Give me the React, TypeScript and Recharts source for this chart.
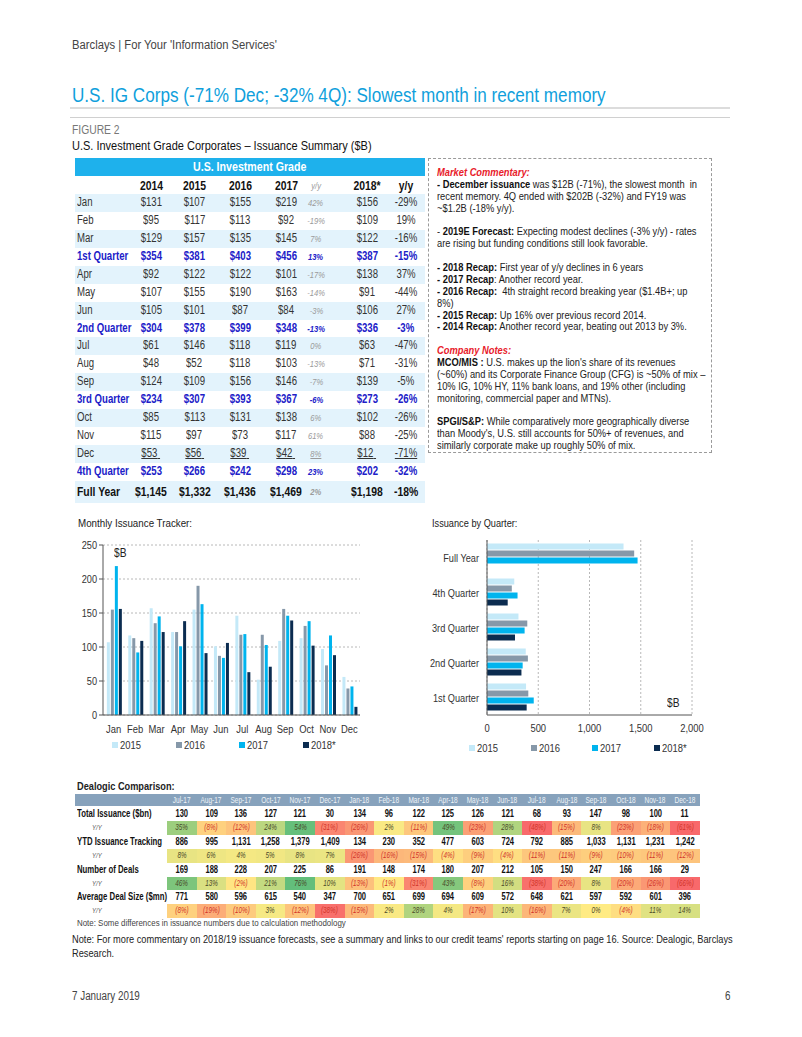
import React from 'react';
import { BarChart, Bar, XAxis, YAxis, CartesianGrid, Legend } from 'recharts';

const FONT = "'Liberation Sans', Arial, sans-serif";

// ---------- Issuance summary data ----------
const MONTHS = ['Jan', 'Feb', 'Mar', 'Apr', 'May', 'Jun', 'Jul', 'Aug', 'Sep', 'Oct', 'Nov', 'Dec'];
const S2014 = [131, 95, 129, 92, 107, 105, 61, 48, 124, 85, 115, 53];
const S2015 = [107, 117, 157, 122, 155, 101, 146, 52, 109, 113, 97, 56];
const S2016 = [155, 113, 135, 122, 190, 87, 118, 118, 156, 131, 73, 39];
const S2017 = [219, 92, 145, 101, 163, 84, 119, 103, 146, 138, 117, 42];
const S2018 = [156, 109, 122, 138, 91, 106, 63, 71, 139, 102, 88, 12];
const YY17 = ['42%', '-19%', '7%', '-17%', '-14%', '-3%', '0%', '-13%', '-7%', '6%', '61%', '8%'];
const YY18 = ['-29%', '19%', '-16%', '37%', '-44%', '27%', '-47%', '-31%', '-5%', '-26%', '-25%', '-71%'];

const QUARTERS = ['1st Quarter', '2nd Quarter', '3rd Quarter', '4th Quarter'];
const Q2014 = [354, 304, 234, 253];
const Q2015 = [381, 378, 307, 266];
const Q2016 = [403, 399, 393, 242];
const Q2017 = [456, 348, 367, 298];
const Q2018 = [387, 336, 273, 202];
const QYY17 = ['13%', '-13%', '-6%', '23%'];
const QYY18 = ['-15%', '-3%', '-26%', '-32%'];

const FY_LABEL = 'Full Year';
const FY = [1145, 1332, 1436, 1469, 1198];
const FYYY17 = '2%';
const FYYY18 = '-18%';

const YEARS_HEAD = ['2014', '2015', '2016', '2017', '2018*'];
const SERIES = ['2015', '2016', '2017', '2018*'];
const COLORS = ['#c4e9f8', '#8698a9', '#00b4ee', '#0b2c50'];
const MONTH_TICKS = [0, 50, 100, 150, 200, 250];
const QUARTER_TICKS = [0, 500, 1000, 1500, 2000];

// ---------- Dealogic data ----------
const DL_MONTHS = ['Jul-17', 'Aug-17', 'Sep-17', 'Oct-17', 'Nov-17', 'Dec-17', 'Jan-18', 'Feb-18', 'Mar-18', 'Apr-18', 'May-18', 'Jun-18', 'Jul-18', 'Aug-18', 'Sep-18', 'Oct-18', 'Nov-18', 'Dec-18'];
const DL_TOTAL = [130, 109, 136, 127, 121, 30, 134, 96, 122, 125, 126, 121, 68, 93, 147, 98, 100, 11];
const DL_TOTAL_YY = [35, -8, -12, 24, 54, -31, -26, 2, -11, 49, -23, 28, -48, -15, 8, -23, -18, -61];
const DL_YTD = [886, 995, 1131, 1258, 1379, 1409, 134, 230, 352, 477, 603, 724, 792, 885, 1033, 1131, 1231, 1242];
const DL_YTD_YY = [8, 6, 4, 5, 8, 7, -26, -16, -15, -4, -9, -4, -11, -11, -9, -10, -11, -12];
const DL_DEALS = [169, 188, 228, 207, 225, 86, 191, 148, 174, 180, 207, 212, 105, 150, 247, 166, 166, 29];
const DL_DEALS_YY = [46, 13, -2, 21, 76, 10, -13, -1, -31, 43, -8, 16, -38, -20, 8, -20, -26, -66];
const DL_AVG = [771, 580, 596, 615, 540, 347, 700, 651, 699, 694, 609, 572, 648, 621, 597, 592, 601, 396];
const DL_AVG_YY = [-8, -19, -10, 3, -12, -38, -15, 2, 28, 4, -17, 10, -16, 7, 0, -4, 11, 14];

const monthlyData = MONTHS.map((m, i) => ({ m, y2015: S2015[i], y2016: S2016[i], y2017: S2017[i], y2018: S2018[i] }));
const quarterData = [
  ...QUARTERS.map((q, i) => ({ q, y2015: Q2015[i], y2016: Q2016[i], y2017: Q2017[i], y2018: Q2018[i] })),
  { q: FY_LABEL, y2015: FY[1], y2016: FY[2], y2017: FY[3], y2018: null },
].reverse();

const money = (v: number) => '$' + v.toLocaleString('en-US');
const comma = (v: number) => v.toLocaleString('en-US');

function heat(v: number) {
  const Y = [255, 235, 132];
  const R = [248, 105, 107];
  const G = [99, 190, 123];
  let t: number, c: number[];
  if (v < 0) { t = Math.min(1, -v / 40); c = R; } else { t = Math.min(1, v / 55); c = G; }
  const r = Y.map((y, k) => Math.round(y + (c[k] - y) * t));
  return `rgb(${r[0]},${r[1]},${r[2]})`;
}

// Text helper: horizontally condensed HTML text
function Txt({ x, y, s = 0.82, align = 'left', style = {}, children }: any) {
  const w = 500;
  const left = align === 'left' ? x : align === 'center' ? x - w / 2 : x - w;
  const origin = align === 'left' ? 'left center' : align === 'right' ? 'right center' : 'center center';
  const { textDecoration, ...rest } = style;
  return (
    <div style={{ position: 'absolute', left, top: y, width: w, textAlign: align, whiteSpace: 'nowrap', ...rest }}>
      <span style={{ display: 'inline-block', transform: `scaleX(${s})`, transformOrigin: origin, textDecoration: textDecoration || 'none' }}>{children}</span>
    </div>
  );
}

const Box = (l: number, t: number, w: number, h: number, bg: string) => (
  <div style={{ position: 'absolute', left: l, top: t, width: w, height: h, background: bg }} />
);

// SVG ticks
const XTick = ({ x, y, payload, dy = 10, fmt }: any) => (
  <g transform={`translate(${x},${y})`}>
    <text x={0} y={0} dy={dy} textAnchor="middle" fontSize={11.5} fill="#333" fontFamily={FONT} transform="scale(0.82,1)">
      {fmt ? fmt(payload.value) : payload.value}
    </text>
  </g>
);
const YTick = ({ x, y, payload }: any) => (
  <g transform={`translate(${x},${y})`}>
    <text x={0} y={0} dy={4} textAnchor="end" fontSize={11.5} fill="#333" fontFamily={FONT} transform="scale(0.8,1)">
      {payload.value}
    </text>
  </g>
);

const LegendContent = ({ left, step }: { left: number; step: number }) => (
  <div style={{ position: 'relative', height: 14, fontFamily: FONT, fontSize: 11.5, color: '#333' }}>
    {SERIES.map((s, i) => (
      <div key={s} style={{ position: 'absolute', left: left + i * step, top: 0, height: 14, display: 'flex', alignItems: 'center', whiteSpace: 'nowrap' }}>
        <span style={{ display: 'inline-block', width: 6, height: 6, background: COLORS[i], marginRight: 2 }} />
        <span style={{ display: 'inline-block', transform: 'scaleX(0.82)', transformOrigin: 'left center' }}>{s}</span>
      </div>
    ))}
  </div>
);

function SummaryTable() {
  const top0 = 194;
  const rh = 17.93;
  type Row = { label: string; vals: number[]; yy17: string; yy18: string; kind: 'm' | 'q' | 'fy' | 'dec' };
  const rows: Row[] = [];
  for (let q = 0; q < 4; q++) {
    for (let k = 0; k < 3; k++) {
      const i = q * 3 + k;
      rows.push({ label: MONTHS[i], vals: [S2014[i], S2015[i], S2016[i], S2017[i], S2018[i]], yy17: YY17[i], yy18: YY18[i], kind: i === 11 ? 'dec' : 'm' });
    }
    rows.push({ label: QUARTERS[q], vals: [Q2014[q], Q2015[q], Q2016[q], Q2017[q], Q2018[q]], yy17: QYY17[q], yy18: QYY18[q], kind: 'q' });
  }
  rows.push({ label: FY_LABEL, vals: FY, yy17: FYYY17, yy18: FYYY18, kind: 'fy' });
  const centers = [151, 194.5, 240, 286, 367];
  const cYY17 = 316;
  const cYY18 = 406;
  const S = 0.8;
  return (
    <>
      {Box(75, 158, 350, 18, '#1eb1ec')}
      <Txt x={250} y={158} align="center" s={0.85} style={{ color: '#fff', fontWeight: 700, fontSize: 12.5, lineHeight: '18px' }}>U.S. Investment Grade</Txt>
      {YEARS_HEAD.map((y, i) => (
        <Txt key={y} x={centers[i]} y={177} align="center" s={S} style={{ fontWeight: 700, fontSize: 13, color: '#111', lineHeight: '17px' }}>{y}</Txt>
      ))}
      <Txt x={cYY17} y={177} align="center" s={S} style={{ fontSize: 9.5, fontStyle: 'italic', color: '#999', lineHeight: '17px' }}>y/y</Txt>
      <Txt x={cYY18} y={177} align="center" s={S} style={{ fontWeight: 700, fontSize: 13, color: '#111', lineHeight: '17px' }}>y/y</Txt>
      {rows.map((r, idx) => {
        const top = top0 + idx * rh;
        const h = r.kind === 'fy' ? 22 : rh;
        const bg = idx % 2 === 0 ? '#e3f3fc' : '#fff';
        const isQ = r.kind === 'q';
        const isFY = r.kind === 'fy';
        const color = isQ ? '#2020c8' : isFY ? '#111' : '#333';
        const fs = isFY ? 13 : 12;
        const base = { fontSize: fs, color, fontWeight: isQ || isFY ? 700 : 400, lineHeight: h + 'px', textDecoration: r.kind === 'dec' ? 'underline' : 'none' };
        return (
          <React.Fragment key={idx}>
            {Box(75, top, 350, h, bg)}
            <Txt x={77} y={top} s={S} style={{ ...base, textDecoration: 'none' }}>{r.label}</Txt>
            {r.vals.map((v, k) => (
              <Txt key={k} x={centers[k]} y={top} align="center" s={S} style={base}>{money(v)}{r.kind === 'dec' ? '\u00a0' : ''}</Txt>
            ))}
            <Txt x={cYY17} y={top} align="center" s={S} style={{ ...base, fontSize: 9.5, fontStyle: 'italic', color: isQ ? '#2020c8' : '#9a9a9a' }}>{r.yy17}</Txt>
            <Txt x={cYY18} y={top} align="center" s={S} style={base}>{r.yy18}</Txt>
          </React.Fragment>
        );
      })}
    </>
  );
}

function Commentary() {
  const B = ({ children }: any) => <b style={{ color: '#111' }}>{children}</b>;
  const R = ({ children }: any) => <b style={{ color: '#e8202a', fontStyle: 'italic' }}>{children}</b>;
  return (
    <div style={{ position: 'absolute', left: 428, top: 158, width: 282, height: 293, border: '1px dashed #9a9a9a' }}>
      <div style={{ position: 'absolute', left: 8, top: 8, fontSize: 11.3, lineHeight: '11.87px', color: '#222', whiteSpace: 'nowrap', transform: 'scaleX(0.825)', transformOrigin: 'left top' }}>
        <R>Market Commentary:</R><br />
        <B>- December issuance</B> was $12B (-71%), the slowest month&nbsp; in<br />
        recent memory. 4Q ended with $202B (-32%) and FY19 was<br />
        ~$1.2B (-18% y/y).<br />
        <br />
        - <B>2019E Forecast:</B> Expecting modest declines (-3% y/y) - rates<br />
        are rising but funding conditions still look favorable.<br />
        <br />
        <B>- 2018 Recap:</B> First year of y/y declines in 6 years<br />
        <B>- 2017 Recap</B>: Another record year.<br />
        <B>- 2016 Recap:</B>&nbsp; 4th straight record breaking year ($1.4B+; up<br />
        8%)<br />
        <B>- 2015 Recap:</B> Up 16% over previous record 2014.<br />
        <B>- 2014 Recap:</B> Another record year, beating out 2013 by 3%.<br />
        <br />
        <R>Company Notes:</R><br />
        <B>MCO/MIS :</B> U.S. makes up the lion's share of its revenues<br />
        (~60%) and its Corporate Finance Group (CFG) is ~50% of mix –<br />
        10% IG, 10% HY, 11% bank loans, and 19% other (including<br />
        monitoring, commercial paper and MTNs).<br />
        <br />
        <B>SPGI/S&amp;P:</B> While comparatively more geographically diverse<br />
        than Moody's, U.S. still accounts for 50%+ of revenues, and<br />
        similarly corporate make up roughly 50% of mix.
      </div>
    </div>
  );
}

function DealogicTable() {
  const colW = 29.6;
  const x0 = 167;
  const rowsDef: { label: string; vals: number[]; yy: boolean }[] = [
    { label: 'Total Issuance ($bn)', vals: DL_TOTAL, yy: false },
    { label: 'Y/Y', vals: DL_TOTAL_YY, yy: true },
    { label: 'YTD Issuance Tracking', vals: DL_YTD, yy: false },
    { label: 'Y/Y', vals: DL_YTD_YY, yy: true },
    { label: 'Number of Deals', vals: DL_DEALS, yy: false },
    { label: 'Y/Y', vals: DL_DEALS_YY, yy: true },
    { label: 'Average Deal Size ($mn)', vals: DL_AVG, yy: false },
    { label: 'Y/Y', vals: DL_AVG_YY, yy: true },
  ];
  const rh = 13.9;
  return (
    <>
      <Txt x={77} y={780} s={0.8} style={{ fontSize: 11.5, fontWeight: 700, color: '#222' }}>Dealogic Comparison:</Txt>
      {Box(75, 794, 625, 12, '#87a2bc')}
      {DL_MONTHS.map((m, i) => (
        <Txt key={m} x={x0 + (i + 0.5) * colW} y={794} align="center" s={0.7} style={{ fontSize: 9.3, lineHeight: '12px', color: '#eef3f8' }}>{m}</Txt>
      ))}
      {rowsDef.map((r, ri) => {
        const top = 807 + ri * rh;
        return (
          <React.Fragment key={ri}>
            {r.yy && r.vals.map((v, i) => <React.Fragment key={'b' + i}>{Box(x0 + i * colW, top, colW + 0.4, rh, heat(v))}</React.Fragment>)}
            <Txt x={r.yy ? 92 : 77} y={top} s={r.yy ? 0.8 : 0.74} style={{ lineHeight: rh + 'px', fontSize: r.yy ? 7.5 : 10.5, fontWeight: r.yy ? 400 : 700, fontStyle: r.yy ? 'italic' : 'normal', color: r.yy ? '#555' : '#111' }}>{r.label}</Txt>
            {r.vals.map((v, i) => (
              <Txt key={i} x={x0 + (i + 0.5) * colW} y={top} align="center" s={r.yy ? 0.74 : 0.72}
                style={{ lineHeight: rh + 'px', fontSize: r.yy ? 8.5 : 10.5, fontWeight: r.yy ? 400 : 700, fontStyle: r.yy ? 'italic' : 'normal', color: r.yy ? (v < 0 ? '#d2342a' : '#4a4a2a') : '#111' }}>
                {r.yy ? (v < 0 ? `(${-v}%)` : `${v}%`) : comma(v)}
              </Txt>
            ))}
          </React.Fragment>
        );
      })}
      <Txt x={77} y={918} s={0.9} style={{ fontSize: 8.8, color: '#444' }}>Note: Some differences in issuance numbers due to calculation methodology</Txt>
    </>
  );
}

export default function App() {
  return (
    <div style={{ position: 'relative', width: 802, height: 1037, background: '#fff', fontFamily: FONT, color: '#222', overflow: 'hidden' }}>
      <style>{'body{margin:0}'}</style>
      <Txt x={72} y={38} s={0.9} style={{ fontSize: 12.5, color: '#444' }}>Barclays | For Your 'Information Services'</Txt>
      <Txt x={72} y={83} s={0.835} style={{ fontSize: 20.5, color: '#109fdc' }}>U.S. IG Corps (-71% Dec; -32% 4Q): Slowest month in recent memory</Txt>
      {Box(70, 107, 660, 2, '#dcdcdc')}
      {Box(70, 117, 660, 1, '#d0d0d0')}
      <Txt x={72} y={123} s={0.86} style={{ fontSize: 12, color: '#777' }}>FIGURE 2</Txt>
      <Txt x={72} y={139} s={0.88} style={{ fontSize: 12.5, color: '#111' }}>U.S. Investment Grade Corporates – Issuance Summary ($B)</Txt>

      <SummaryTable />
      <Commentary />

      <Txt x={78} y={517} s={0.85} style={{ fontSize: 11.5, color: '#222' }}>Monthly Issuance Tracker:</Txt>
      <div style={{ position: 'absolute', left: 68, top: 535 }}>
        <BarChart width={300} height={228} data={monthlyData} margin={{ top: 10, right: 8, left: 0, bottom: 0 }} barCategoryGap="18%" barGap={1}>
          <CartesianGrid vertical={false} stroke="#b8b8b8" strokeDasharray="2 2" />
          <XAxis dataKey="m" interval={0} height={22} tick={<XTick dy={10} />} axisLine={{ stroke: '#555' }} tickLine={false} />
          <YAxis type="number" domain={[0, 250]} ticks={MONTH_TICKS} width={35} tick={<YTick />} axisLine={{ stroke: '#555' }} tickLine={{ stroke: '#555' }} tickSize={4} />
          <Bar dataKey="y2015" name={SERIES[0]} fill={COLORS[0]} isAnimationActive={false} />
          <Bar dataKey="y2016" name={SERIES[1]} fill={COLORS[1]} isAnimationActive={false} />
          <Bar dataKey="y2017" name={SERIES[2]} fill={COLORS[2]} isAnimationActive={false} />
          <Bar dataKey="y2018" name={SERIES[3]} fill={COLORS[3]} isAnimationActive={false} />
          <Legend verticalAlign="bottom" height={26} wrapperStyle={{ left: 0, width: 300 }} content={() => <div style={{ paddingTop: 1 }}><LegendContent left={44} step={63.5} /></div>} />
        </BarChart>
      </div>
      <Txt x={114} y={546} s={0.85} style={{ fontSize: 12, color: '#222' }}>$B</Txt>

      <Txt x={432} y={517} s={0.8} style={{ fontSize: 11.5, color: '#222' }}>Issuance by Quarter:</Txt>
      <div style={{ position: 'absolute', left: 420, top: 530 }}>
        <BarChart width={300} height={232} data={quarterData} layout="vertical" margin={{ top: 10, right: 28, left: 0, bottom: 0 }} barCategoryGap="10%" barGap={1}>
          <CartesianGrid horizontal={false} stroke="#b8b8b8" strokeDasharray="2 2" />
          <XAxis type="number" domain={[0, 2000]} ticks={QUARTER_TICKS} height={22} tick={<XTick dy={9} fmt={comma} />} axisLine={{ stroke: '#555' }} tickLine={false} />
          <YAxis type="category" dataKey="q" width={67} tick={<YTick />} axisLine={{ stroke: '#555' }} tickLine={false} />
          <Bar dataKey="y2015" name={SERIES[0]} fill={COLORS[0]} isAnimationActive={false} />
          <Bar dataKey="y2016" name={SERIES[1]} fill={COLORS[1]} isAnimationActive={false} />
          <Bar dataKey="y2017" name={SERIES[2]} fill={COLORS[2]} isAnimationActive={false} />
          <Bar dataKey="y2018" name={SERIES[3]} fill={COLORS[3]} isAnimationActive={false} />
          <Legend verticalAlign="bottom" height={25} wrapperStyle={{ left: 0, width: 300 }} content={() => <div style={{ paddingTop: 4 }}><LegendContent left={49} step={61.5} /></div>} />
        </BarChart>
      </div>
      <Txt x={667} y={696} s={0.85} style={{ fontSize: 12, color: '#222' }}>$B</Txt>

      <DealogicTable />

      <div style={{ position: 'absolute', left: 72, top: 933, fontSize: 11, lineHeight: '13.5px', color: '#222', whiteSpace: 'nowrap', transform: 'scaleX(0.84)', transformOrigin: 'left top' }}>
        Note: For more commentary on 2018/19 issuance forecasts, see a summary and links to our credit teams' reports starting on page 16. Source: Dealogic, Barclays<br />
        Research.
      </div>

      <Txt x={72} y={989} s={0.82} style={{ fontSize: 12, color: '#444' }}>7 January 2019</Txt>
      <Txt x={725} y={989} s={0.82} style={{ fontSize: 12, color: '#444' }}>6</Txt>
    </div>
  );
}
